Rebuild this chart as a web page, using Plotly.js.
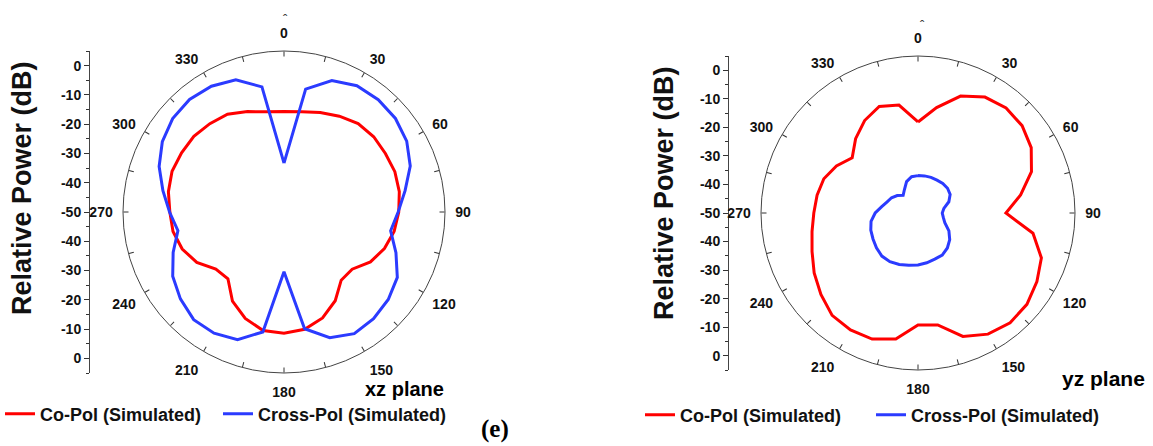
<!DOCTYPE html>
<html>
<head>
<meta charset="utf-8">
<script src="https://cdn.plot.ly/plotly-3.0.1.min.js"></script>
<style>html,body{margin:0;padding:0;background:#fff;}#chart{width:1153px;height:446px;}</style>
</head>
<body>
<div id="chart"></div>
<script>
// Angles in degrees (clockwise from top)
const angles = [0,10,20,30,40,50,60,70,80,90,100,110,120,130,140,150,160,170,
                180,190,200,210,220,230,240,250,260,270,280,290,300,310,320,330,340,350];

// xz plane
const xzCoPol = [-15.7,-15.2,-13.8,-12.2,-10.6,-10,-10,-9.7,-10,-10.8,-11.8,-13.5,-15.9,-19.6,-19.6,-15,-11.5,-9.3,
                 -8.6,-8.9,-11.3,-14.8,-20.2,-19.6,-15.6,-13,-11.5,-11,-9.9,-9.3,-9.6,-9.8,-10.6,-11.4,-13.5,-15.2];
const xzCrossPol = [-33.3,-7.4,-2.2,-0.2,0.1,-0.3,-1.6,-4.1,-8,-11,-13,-9.3,-5.3,-3.5,-2.4,-2,-4.3,-9.5,
                    -29.6,-8.4,-3.6,-2.2,-2,-3.8,-6.1,-9.7,-13.2,-10.9,-8,-4.6,-2,-0.35,0.2,-0.4,-1.9,-6.6];

// yz plane
const yzCoPol = [-18.1,-12.5,-6.4,-3.1,-2,-2.4,-4.2,-7.7,-13.5,-19.2,-9.1,-4,-1.9,-0.2,0.2,-1,-4,-10.2,
                 -10.8,-5.2,-3,-2.7,-3.2,-5.6,-8,-10.5,-12.3,-13.5,-14.1,-14.9,-17,-19.9,-16,-12.6,-10.3,-11.6];
const yzCrossPol = [-36.9,-36.8,-36.7,-36.7,-36.5,-36.5,-37,-38.5,-40.8,-41.5,-41,-40,-37.5,-35.5,-34,-33,-32.8,-32.3,
                    -31.8,-31.4,-30.8,-30.3,-30.3,-31,-31.8,-32.4,-33.3,-35,-37.1,-38.5,-39.3,-40.5,-41.9,-40.5,-38.3,-37.1];

// Angular ticks and labels
const angTickVals = [0,15,30,45,60,75,90,105,120,135,150,165,180,195,210,225,240,255,270,285,300,315,330,345];
const angLabelVals = [0,30,60,90,120,150,180,210,240,270,300,330];
const angLabelText = ['0','30','60','90','120','150','180','210','240','270','300','330'];

// Left linear axis (dB) ticks
const dbTickVals = [-50,-40,-30,-20,-10,0,10,20,30,40,50];
const dbTickText = ['0','-10','-20','-30','-40','-50','-40','-30','-20','-10','0'];

const seriesNames = ['Co-Pol (Simulated)','Cross-Pol (Simulated)'];
const RED = '#ff0000', BLUE = '#2b3bff';
const FONT = 'Liberation Sans, Arial, sans-serif';

function closed(a){ return a.concat([a[0]]); }

const traces = [
  {type:'scatterpolar', subplot:'polar', r:closed(xzCoPol), theta:closed(angles), mode:'lines',
   line:{color:RED,width:3}, name:seriesNames[0], legend:'legend'},
  {type:'scatterpolar', subplot:'polar', r:closed(xzCrossPol), theta:closed(angles), mode:'lines',
   line:{color:BLUE,width:3}, name:seriesNames[1], legend:'legend2'},
  {type:'scatterpolar', subplot:'polar2', r:closed(yzCoPol), theta:closed(angles), mode:'lines',
   line:{color:RED,width:3}, name:seriesNames[0], legend:'legend3'},
  {type:'scatterpolar', subplot:'polar2', r:closed(yzCrossPol), theta:closed(angles), mode:'lines',
   line:{color:BLUE,width:3}, name:seriesNames[1], legend:'legend4'},
  // label-only overlay polar subplots
  {type:'scatterpolar', subplot:'polar3', r:[-50], theta:[0], mode:'markers', marker:{opacity:0}, showlegend:false, hoverinfo:'skip'},
  {type:'scatterpolar', subplot:'polar4', r:[-50], theta:[0], mode:'markers', marker:{opacity:0}, showlegend:false, hoverinfo:'skip'},
  // dummy traces to display the linear dB axes
  {type:'scatter', x:[0], y:[0], xaxis:'x', yaxis:'y', mode:'markers', marker:{opacity:0}, showlegend:false, hoverinfo:'skip'},
  {type:'scatter', x:[0], y:[0], xaxis:'x2', yaxis:'y2', mode:'markers', marker:{opacity:0}, showlegend:false, hoverinfo:'skip'}
];

const tickFont = {family:FONT, size:14, color:'#111', weight:'bold'};

function polarCfg(xd, yd){
  return {
    domain:{x:xd, y:yd},
    bgcolor:'rgba(0,0,0,0)',
    radialaxis:{visible:false, range:[-50,5]},
    angularaxis:{rotation:90, direction:'clockwise', tickmode:'array', tickvals:angTickVals, showticklabels:false,
      ticks:'inside', ticklen:5, tickcolor:'#333', showgrid:false, showline:true, linecolor:'#444', linewidth:1}
  };
}
function polarLabelCfg(xd, yd){
  return {
    domain:{x:xd, y:yd},
    bgcolor:'rgba(0,0,0,0)',
    radialaxis:{visible:false, range:[-50,5]},
    angularaxis:{rotation:90, direction:'clockwise', tickmode:'array', tickvals:angLabelVals, ticktext:angLabelText,
      ticks:'outside', ticklen:7, tickcolor:'rgba(0,0,0,0)', showgrid:false, showline:false,
      tickfont:tickFont}
  };
}

function yCfg(yd, anchor){
  return {domain:yd, range:[-55,55], anchor:anchor, tickmode:'array', tickvals:dbTickVals, ticktext:dbTickText,
    ticks:'outside', ticklen:5, tickcolor:'#333', showline:true, linecolor:'#444', linewidth:1, showgrid:false, zeroline:false,
    minor:{dtick:5, tick0:0, ticks:'outside', ticklen:3, tickcolor:'#333', showgrid:false},
    tickfont:tickFont, fixedrange:true};
}
function xCfg(xd, anchor){
  return {domain:xd, visible:false, anchor:anchor, fixedrange:true};
}

const legendFont = {family:FONT, size:18, color:'#111', weight:'bold'};
function legendCfg(xpx, ypx){
  return {orientation:'h', x:xpx/1153, xanchor:'left', y:1-ypx/446, yanchor:'middle', font:legendFont,
    bgcolor:'rgba(0,0,0,0)', itemwidth:30};
}

const dLx = [123/1153, 445/1153], dLy = [1-373/446, 1-51/446];
const dRx = [761/1153, 1075/1153], dRy = [1-370/446, 1-56/446];

const layout = {
  width:1153, height:446,
  margin:{l:0,r:0,t:0,b:0},
  paper_bgcolor:'#fff', plot_bgcolor:'rgba(0,0,0,0)',
  showlegend:true,
  polar: polarCfg(dLx, dLy),
  polar2: polarCfg(dRx, dRy),
  polar3: polarLabelCfg(dLx, dLy),
  polar4: polarLabelCfg(dRx, dRy),
  xaxis: xCfg([90/1153, 100/1153], 'y'),
  yaxis: yCfg(dLy, 'x'),
  xaxis2: xCfg([729/1153, 740/1153], 'y2'),
  yaxis2: yCfg(dRy, 'x2'),
  legend: legendCfg(0, 414),
  legend2: legendCfg(218, 414),
  legend3: legendCfg(640, 415),
  legend4: legendCfg(871, 415),
  annotations:[
    {text:'Relative Power (dB)', xref:'paper', yref:'paper', x:22/1153, y:1-188/446, xanchor:'center', yanchor:'middle',
     textangle:-90, showarrow:false, font:{family:FONT, size:27, color:'#111', weight:'bold'}},
    {text:'Relative Power (dB)', xref:'paper', yref:'paper', x:664/1153, y:1-193/446, xanchor:'center', yanchor:'middle',
     textangle:-90, showarrow:false, font:{family:FONT, size:27, color:'#111', weight:'bold'}},
    {text:'xz plane', xref:'paper', yref:'paper', x:404/1153, y:1-389/446, xanchor:'center', yanchor:'middle',
     showarrow:false, font:{family:FONT, size:20, color:'#000', weight:'bold'}},
    {text:'yz plane', xref:'paper', yref:'paper', x:1103/1153, y:1-378/446, xanchor:'center', yanchor:'middle',
     showarrow:false, font:{family:FONT, size:21, color:'#000', weight:'bold'}},
    {text:'(e)', xref:'paper', yref:'paper', x:495/1153, y:1-429/446, xanchor:'center', yanchor:'middle',
     showarrow:false, font:{family:'Liberation Serif, Times New Roman, serif', size:25, color:'#000', weight:'bold'}},
    {text:'ˆ', xref:'paper', yref:'paper', x:285/1153, y:1-19/446, xanchor:'center', yanchor:'middle',
     showarrow:false, font:{family:FONT, size:13, color:'#333'}},
    {text:'ˆ', xref:'paper', yref:'paper', x:922/1153, y:1-25/446, xanchor:'center', yanchor:'middle',
     showarrow:false, font:{family:FONT, size:13, color:'#333'}}
  ]
};

Plotly.newPlot('chart', traces, layout, {staticPlot:true, displayModeBar:false});
</script>
</body>
</html>
